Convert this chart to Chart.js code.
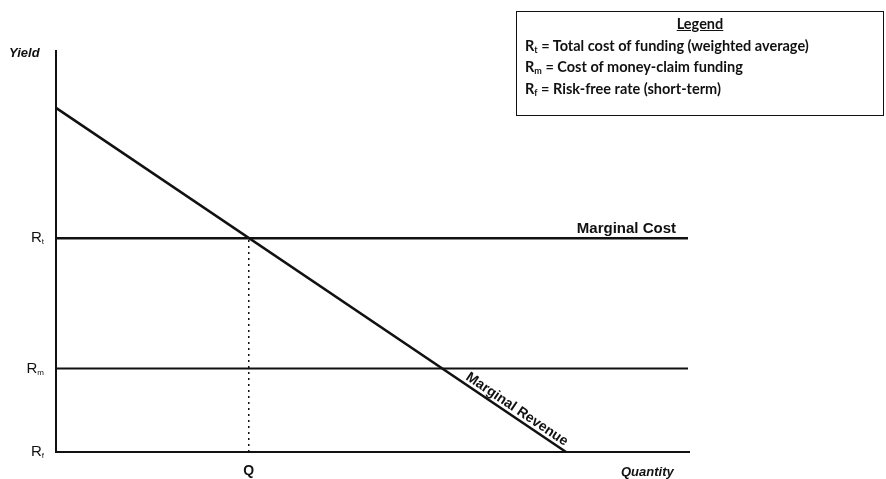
<!DOCTYPE html>
<html>
<head>
<meta charset="utf-8">
<script src="https://cdn.jsdelivr.net/npm/chart.js@4.4.0/dist/chart.umd.min.js"></script>
<style>
    html, body { margin: 0; padding: 0; background: #fff; }
    #wrap { position: relative; width: 886px; height: 479px; }
    #legendBox {
        position: absolute; left: 516px; top: 11px; width: 368px; height: 105px;
        border: 1.5px solid #111; box-sizing: border-box;
        font-family: Lato, "Open Sans", sans-serif; font-weight: 700; font-size: 14.5px; color: #111;
        padding: 1px 0 0 8px; line-height: 21.5px;
    }
    #legendBox .title { text-align: center; text-decoration: underline; padding-right: 8px; }
    #legendBox sub { font-size: 9px; vertical-align: -2px; line-height: 0; }
</style>
</head>
<body>
<div id="wrap">
    <canvas id="grafico"></canvas>
    <div id="legendBox">
        <div class="title">Legend</div>
        <div>R<sub>t</sub> = Total cost of funding (weighted average)</div>
        <div>R<sub>m</sub> = Cost of money-claim funding</div>
        <div>R<sub>f</sub> = Risk-free rate (short-term)</div>
    </div>
</div>
<script>
// Niveles de tasa (eje y, escala 0-100)
const rateNames = ['t', 'm', 'f'];
const rateValues = [53.2, 20.8, 0];

// Curva de ingreso marginal (dos puntos)
const mrQuantity = [0, 80.7];
const mrYield = [85.6, 0];

// Cantidad de equilibrio Q
const qValue = 30.5;
const qLabel = 'Q';

const xMax = 100;
const yMax = 100;

const negro = '#111111';

// Plugin para ejes, etiquetas y textos
const textosPlugin = {
    id: 'textos',
    afterDatasetsDraw(chart) {
        const ctx = chart.ctx;
        const area = chart.chartArea;
        const xs = chart.scales.x;
        const ys = chart.scales.y;
        ctx.save();

        // Ejes
        ctx.strokeStyle = negro;
        ctx.lineWidth = 2;
        ctx.beginPath();
        ctx.moveTo(area.left, area.top);
        ctx.lineTo(area.left, area.bottom);
        ctx.lineTo(area.right + 2, area.bottom);
        ctx.stroke();

        // Etiquetas R del eje y
        ctx.fillStyle = negro;
        ctx.textBaseline = 'middle';
        rateValues.forEach((v, i) => {
            const y = ys.getPixelForValue(v);
            const sub = rateNames[i];
            ctx.font = '8px "Liberation Sans", Arial, sans-serif';
            const subW = ctx.measureText(sub).width;
            ctx.textAlign = 'right';
            ctx.fillText(sub, 44, y + 4);
            ctx.font = '15px "Liberation Sans", Arial, sans-serif';
            ctx.fillText('R', 44 - subW, y);
        });

        // Títulos de ejes
        ctx.font = 'italic bold 13px "Liberation Sans", Arial, sans-serif';
        ctx.textAlign = 'left';
        ctx.fillText('Yield', 9, 53);
        ctx.fillText('Quantity', 621, 472);

        // Etiqueta Q
        ctx.font = 'bold 14px "Liberation Sans", Arial, sans-serif';
        ctx.textAlign = 'center';
        ctx.fillText(qLabel, xs.getPixelForValue(qValue), 471);

        // Marginal Cost
        ctx.font = 'bold 15px "Liberation Sans", Arial, sans-serif';
        ctx.textAlign = 'right';
        ctx.textBaseline = 'alphabetic';
        ctx.fillText('Marginal Cost', area.right - 12, ys.getPixelForValue(rateValues[0]) - 5);

        // Marginal Revenue (girado sobre la curva)
        const x0 = xs.getPixelForValue(mrQuantity[0]);
        const y0 = ys.getPixelForValue(mrYield[0]);
        const x1 = xs.getPixelForValue(mrQuantity[1]);
        const y1 = ys.getPixelForValue(mrYield[1]);
        const ang = Math.atan2(y1 - y0, x1 - x0);
        const t = 0.895;
        ctx.font = 'bold 14px "Liberation Sans", Arial, sans-serif';
        ctx.translate(x0 + (x1 - x0) * t, y0 + (y1 - y0) * t);
        ctx.rotate(ang);
        ctx.textAlign = 'center';
        ctx.fillText('Marginal Revenue', 0, -4);
        ctx.restore();
    }
};

const ctx = document.getElementById('grafico').getContext('2d');

new Chart(ctx, {
    type: 'scatter',
    data: {
        datasets: [
            {
                label: 'Marginal Revenue',
                data: mrQuantity.map((q, i) => ({ x: q, y: mrYield[i] })),
                showLine: true,
                borderColor: negro,
                borderWidth: 2.5,
                pointRadius: 0,
                clip: false
            },
            {
                label: 'Marginal Cost',
                data: [{ x: 0, y: rateValues[0] }, { x: xMax, y: rateValues[0] }],
                showLine: true,
                borderColor: negro,
                borderWidth: 2.5,
                pointRadius: 0,
                clip: false
            },
            {
                label: 'Rm',
                data: [{ x: 0, y: rateValues[1] }, { x: xMax, y: rateValues[1] }],
                showLine: true,
                borderColor: negro,
                borderWidth: 2,
                pointRadius: 0,
                clip: false
            },
            {
                label: 'Q',
                data: [{ x: qValue, y: 0 }, { x: qValue, y: rateValues[0] }],
                showLine: true,
                borderColor: negro,
                borderWidth: 1.5,
                borderDash: [2, 4],
                pointRadius: 0,
                clip: false
            }
        ]
    },
    options: {
        responsive: true,
        maintainAspectRatio: false,
        animation: false,
        layout: {
            padding: { left: 56, right: 198, top: 50, bottom: 27 }
        },
        scales: {
            x: { type: 'linear', min: 0, max: xMax, display: false },
            y: { type: 'linear', min: 0, max: yMax, display: false }
        },
        plugins: {
            legend: { display: false },
            tooltip: { enabled: false }
        }
    },
    plugins: [textosPlugin]
});
</script>
</body>
</html>
